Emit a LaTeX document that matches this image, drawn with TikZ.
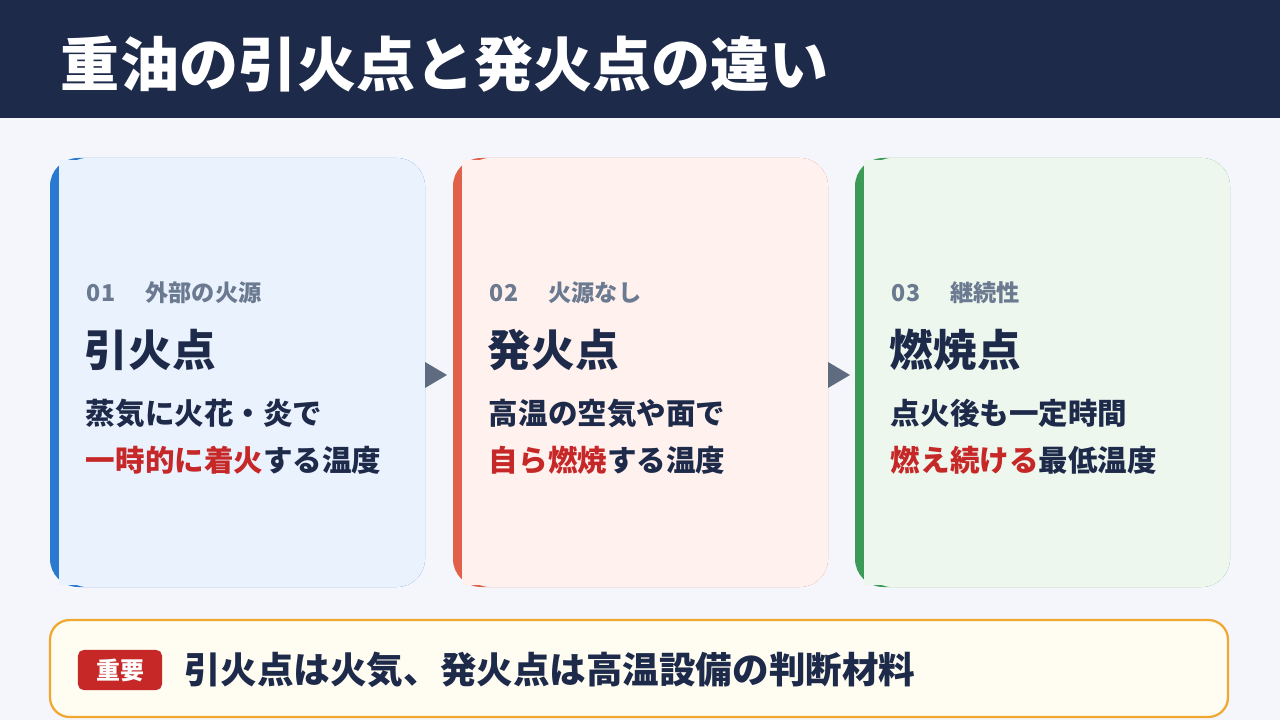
\documentclass[tikz,border=0pt]{standalone}
\usepackage{fontspec}
\setmainfont{Noto Sans CJK JP}
\usetikzlibrary{positioning}
\definecolor{navy}{HTML}{1E2A4A}
\definecolor{pagebg}{HTML}{F4F6FB}
\definecolor{labelgray}{HTML}{6B7A90}
\definecolor{hot}{HTML}{C62828}
\definecolor{arrowgray}{HTML}{5E6B80}
\definecolor{blueS}{HTML}{2979D0}\definecolor{blueF}{HTML}{EAF2FE}
\definecolor{redS}{HTML}{E0604A}\definecolor{redF}{HTML}{FEF1EE}
\definecolor{greenS}{HTML}{3C9A57}\definecolor{greenF}{HTML}{EDF7EE}
\definecolor{orangeS}{HTML}{F0A830}\definecolor{creamF}{HTML}{FFFCF2}
\tikzset{
  tag/.style={anchor=west,text=labelgray,font=\fontsize{16.5}{19}\selectfont\bfseries},
  head/.style={anchor=west,text=navy,font=\fontsize{31}{34}\selectfont\bfseries},
  body/.style={anchor=west,text=navy,font=\fontsize{21}{24}\selectfont\bfseries},
}
\begin{document}
\begin{tikzpicture}[x=0.025cm,y=-0.025cm]
  \useasboundingbox (0,0) rectangle (1280,720);
  \fill[pagebg] (0,0) rectangle (1280,720);
  \fill[navy] (0,0) rectangle (1280,118);
  \node[anchor=west,text=white,font=\fontsize{42}{46}\selectfont\bfseries] (title) at (56,64) {重油の引火点と発火点の違い};
  % cards
  \foreach \x/\s/\f/\n/\t/\h/\la/\lb in {
    50/blueS/blueF/a/01\hspace{1.3em}外部の火源/引火点/蒸気に火花・炎で/{\textcolor{hot}{一時的に着火}する温度},
    453/redS/redF/b/02\hspace{1.3em}火源なし/発火点/高温の空気や面で/{\textcolor{hot}{自ら燃焼}する温度},
    855/greenS/greenF/c/03\hspace{1.3em}継続性/燃焼点/点火後も一定時間/{\textcolor{hot}{燃え続ける}最低温度}}{
    \fill[\s,rounded corners=20] (\x,158) rectangle (\x+375,587);
    \fill[\f,rounded corners=20] (\x+9,158) rectangle (\x+375,587);
    \fill[\f] (\x+9,160) rectangle (\x+40,585);
    \node[tag] (tag\n) at (\x+32,293) {\t};
    \node[head] (head\n) at (\x+30,350) {\h};
    \node[body] (la\n) at (\x+31,413) {\la};
    \node[body] (lb\n) at (\x+31,460) {\lb};
  }
  \fill[arrowgray] (425,362) -- (447,375) -- (425,388) -- cycle;
  \fill[arrowgray] (828,362) -- (850,375) -- (828,388) -- cycle;
  % note
  \draw[orangeS,line width=1.6pt,fill=creamF,rounded corners=14] (50,620) rectangle (1228,717);
  \node[fill=hot,rounded corners=4,text=white,minimum width=2.1cm,minimum height=1cm,
    font=\fontsize{17}{20}\selectfont\bfseries] (badge) at (120,670) {重要};
  \node[anchor=west,text=navy,font=\fontsize{26}{30}\selectfont\bfseries,right=12pt of badge] (note)
    {引火点は火気、発火点は高温設備の判断材料};
\end{tikzpicture}
\end{document}
